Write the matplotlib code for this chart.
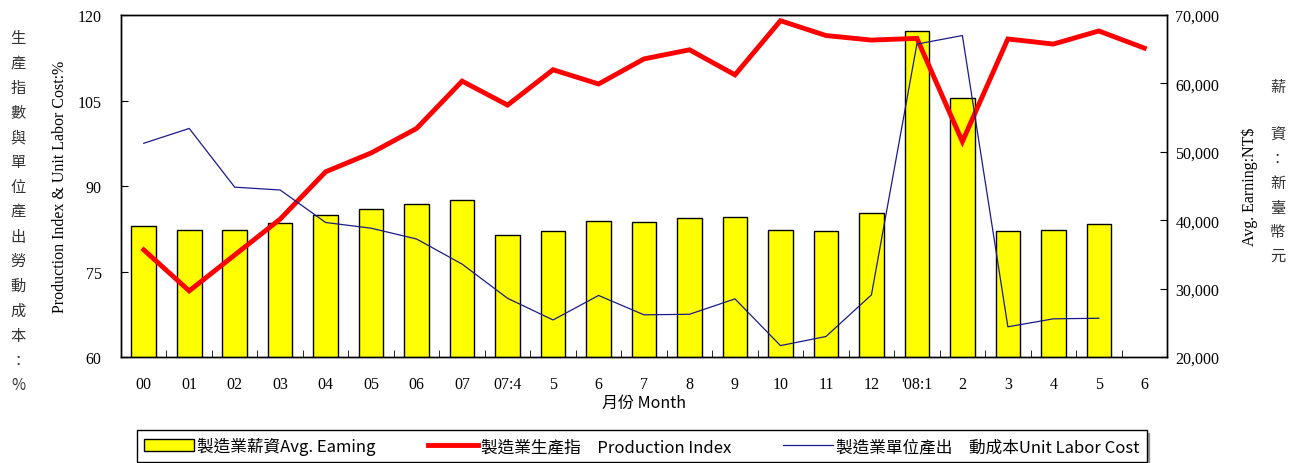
import matplotlib.pyplot as plt
import matplotlib.ticker as mticker
import numpy as np

# category labels (months)
months = ['00', '01', '02', '03', '04', '05', '06', '07', '07:4', '5', '6', '7',
          '8', '9', '10', '11', '12', "'08:1", '2', '3', '4', '5', '6']

# avg. earning (NT$), last month not yet available
earning = [39100, 38600, 38600, 39600, 40700, 41700, 42300, 43000, 37900, 38400,
           39900, 39700, 40300, 40400, 38600, 38400, 41000, 67600, 57800, 38400,
           38600, 39500, np.nan]

# production index
prod_index = [78.8, 71.6, 77.9, 84.2, 92.5, 95.8, 100.1, 108.4, 104.2, 110.4,
              107.9, 112.3, 113.9, 109.5, 119.0, 116.4, 115.6, 115.9, 97.8, 115.8,
              114.9, 117.2, 114.2]

# unit labor cost
labor_cost = [97.5, 100.1, 89.8, 89.3, 83.6, 82.6, 80.7, 76.3, 70.3, 66.5,
              70.8, 67.4, 67.5, 70.2, 62.0, 63.6, 70.9, 114.9, 116.4, 65.3,
              66.7, 66.8, np.nan]

serif = 'Liberation Serif'
cjk = ['Noto Sans CJK TC', 'DejaVu Sans']
narrow = ['Liberation Sans Narrow', 'Noto Sans CJK TC']

fig = plt.figure(figsize=(12.97, 4.64), dpi=100)
ax = fig.add_axes([0.0933, 0.2284, 0.8065, 0.7371])
ax2 = ax.twinx()

x = np.arange(len(months))

# bars on the right axis, lines on the left axis drawn over them
bars = ax2.bar(x, earning, width=0.54, color='#ffff00', edgecolor='black', linewidth=1.0)
ax.set_zorder(ax2.get_zorder() + 1)
ax.patch.set_visible(False)

l1, = ax.plot(x, prod_index, color='#ff0000', lw=3.5, solid_joinstyle='miter')
l2, = ax.plot(x, labor_cost, color='#1a1a8c', lw=0.9)

ax.set_xlim(-0.5, len(months) - 0.5)
ax.set_ylim(60, 120)
ax.set_yticks([60, 75, 90, 105, 120])
ax2.set_ylim(20000, 70000)
ax2.set_yticks(np.arange(20000, 70001, 10000))
ax2.yaxis.set_major_formatter(mticker.FuncFormatter(lambda v, p: f'{int(v):,}'))

ax.set_xticks(x)
ax.set_xticklabels(months)
ax.set_xticks(np.arange(0.5, len(months) - 1, 1), minor=True)
ax.tick_params(axis='x', which='major', length=0, pad=14)
ax.tick_params(axis='x', which='minor', direction='in', length=5)
ax.tick_params(axis='y', direction='in', length=5, pad=14)
ax2.tick_params(axis='y', direction='in', length=5, pad=6)
for lab in ax.get_xticklabels() + ax.get_yticklabels() + ax2.get_yticklabels():
    lab.set_fontfamily(serif)
    lab.set_fontsize(11.5)

for a in (ax, ax2):
    for s in a.spines.values():
        s.set_linewidth(1.0)

ax.set_xlabel('月份 Month', family=narrow, fontsize=11.5, labelpad=1)

# left axis titles
ax.set_ylabel('Production Index & Unit Labor Cost:%', family=serif, fontsize=11.5, labelpad=7)
fig.text(0.0139, 0.935, '\n'.join('生產指數與單位產出勞動成本：%'), family=cjk, fontsize=11,
         color='#333333', ha='center', va='top', linespacing=1.6)

# right axis titles
ax2.set_ylabel('Avg. Earning:NT$', family=serif, fontsize=11.5, labelpad=16)
fig.text(0.985, 0.83, '薪\n\n資\n：\n新\n臺\n幣\n元', family=cjk, fontsize=11,
         color='#333333', ha='center', va='top', linespacing=1.55)

leg = fig.legend([bars, l1, l2],
                 ['製造業薪資Avg. Eaming', '製造業生產指　Production Index', '製造業單位產出　動成本Unit Labor Cost'],
                 loc='lower left', bbox_to_anchor=(0.106, 0.003, 0.778, 0.063), mode='expand',
                 ncol=3, frameon=True, fancybox=False, shadow=True, borderaxespad=0,
                 prop={'family': narrow, 'size': 12},
                 handlelength=3.0, handletextpad=0.2, columnspacing=1.0)
leg.get_frame().set_edgecolor('black')
leg.get_frame().set_linewidth(1.0)

fig.savefig('out.png', dpi=100)
